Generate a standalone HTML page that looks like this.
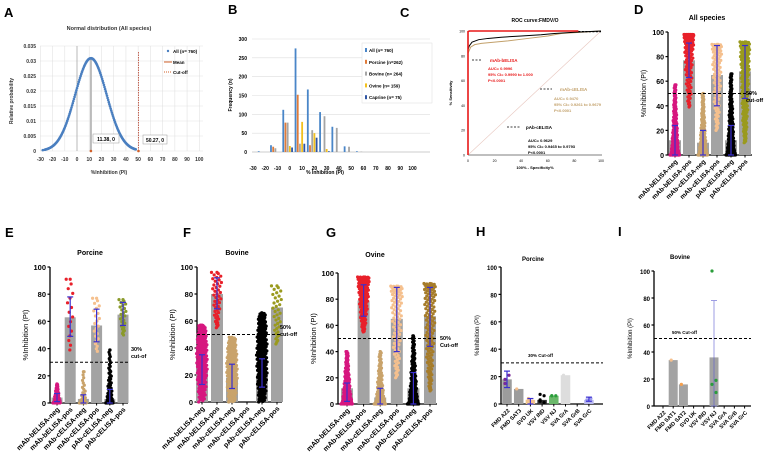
<!DOCTYPE html>
<html><head><meta charset="utf-8"><style>
body{margin:0;background:#fff}
svg{display:block;font-family:"Liberation Sans",sans-serif}
</style></head><body>
<svg id="fig" width="773" height="467" viewBox="0 0 773 467" xmlns="http://www.w3.org/2000/svg">
</svg>
<script>
// ---------- DATA ----------
const aMean = 11.38, aSd = 12.9, aCut = 50.27;
const aXTicks = [-30,-20,-10,0,10,20,30,40,50,60,70,80,90,100];
const aYTicks = [0,0.005,0.01,0.015,0.02,0.025,0.03,0.035];
const bBins = [-22,-12,-2,8,18,28,38,48,58];
const bAll = [2,18,112,275,166,106,67,15,2];
const bPorcine = [0,14,78,152,18,0,0,0,0];
const bBovine = [0,10,78,22,58,95,64,14,1];
const bOvine = [0,0,16,80,50,8,0,0,0];
const bCaprine = [0,0,12,22,38,2,0,0,0];
const bYTicks = [0,50,100,150,200,250,300];
const bXTicks = [-30,-20,-10,0,10,20,30,40,50,60,70,80,90,100];
const rocRedX = [0,0,1,83], rocRedY = [0,99.5,100,100];
const rocBlackX = [0,0,1,3,8,15,25,40,55,65,80,100], rocBlackY = [0,85,88,91,93,94,95,96,97,98,99,100];
const rocTanX = [0,0,2,5,10,20,30,45,60,70,85,100], rocTanY = [0,82,87,89,90,91,92,94,96,98,99,100];
const catsSix = ["mAb-bELISA-neg","mAb-bELISA-pos","mAb-cELISA-neg","mAb-cELISA-pos","pAb-cELISA-neg","pAb-cELISA-pos"];
const dBars = [12,77,10,65,12,68], dLo=[0,63,0,40,0,46], dHi=[24,91,20,89,24,89], dMin=[0,39,0,20,0,10], dMax=[57,98,50,90,66,92];
const eBars = [4,63,3,57,3,65], eLo=[1,49,0,45,0,57], eHi=[7,78,6,69,10,74], eMin=[0,39,0,38,0,50], eMax=[14,91,23,77,39,76];
const fBars = [25,80,18,0,20,70], fLo=[13,69,10,0,11,0], fHi=[35,92,28,0,32,0], fMin=[0,55,0,0,0,43], fMax=[57,96,48,0,66,86];
const gBars = [12,79,5,65,12,67], gLo=[2,67,0,40,0,44], gHi=[16,91,12,89,24,89], gMin=[0,55,0,20,0,10], gMax=[40,97,40,90,52,92];
const hCats = ["FMD A22","FMD SAT3","SVD UK","VSV IND","VSV NJ","SVA GrA","SVA GrB","SVA GrC"];
const hBars = [18,11,3,3,6,21,0,3], hLo=[12,0,0,0,0,0,0,2], hHi=[24,0,4,0,0,0,0,5];
const iCats = ["FMD A22","FMD SAT1","FMD SAT2","SVD UK","VSV IND","VSV NJ","SVA GrA","SVA GrB","SVA GrC"];
const iBars = [0,34,16,0,0,36,0,0,0], iLo=[0,0,0,0,0,0,0,0,0], iHi=[0,0,0,0,0,78,0,0,0];
const iDots = [[],[34],[16],[],[],[100,19,16,10],[],[],[]];
const yTicks100 = [0,20,40,60,80,100];

// ---------- HELPERS ----------
const svg = document.getElementById('fig');
const NS = "http://www.w3.org/2000/svg";
function el(tag, attrs, parent){const e=document.createElementNS(NS,tag);for(const k in attrs)e.setAttribute(k,attrs[k]);(parent||svg).appendChild(e);return e;}
function txt(x,y,s,attrs,parent){const t=el('text',Object.assign({x:x,y:y},attrs||{}),parent);t.textContent=s;return t;}
function grp(name){const g=el('g',{});return g;}
function label(x,y,s){const t=txt(x,y,s,{'font-size':13,'font-weight':'bold'});}

// ---------- PANEL A ----------
(function(){
 const g=grp('panel-a-normal-distribution');
 label(4,17,'A');
 const X=v=>77+(v)*(201-42)/130, Y=v=>151-v*(105/0.035);
 txt(109,30,'Normal distribution (All species)',{'font-size':5.5,'font-weight':'bold','text-anchor':'middle','fill':'#333'},g);
 aYTicks.forEach(t=>{el('line',{x1:40,x2:203,y1:Y(t),y2:Y(t),stroke:'#e2e2e2','stroke-width':0.6},g);txt(36,Y(t)+2,String(t),{'font-size':5,'font-weight':'bold','text-anchor':'end','fill':'#333'},g);});
 aXTicks.forEach(t=>{el('line',{x1:X(t),x2:X(t),y1:46,y2:151,stroke:'#e2e2e2','stroke-width':0.6},g);txt(X(t),161,String(t),{'font-size':5,'font-weight':'bold','text-anchor':'middle','fill':'#333'},g);});
 el('line',{x1:X(0),x2:X(0),y1:46,y2:151,stroke:'#aaa','stroke-width':0.8},g);
 txt(10,98,'Relative probability',{'font-size':5,'font-weight':'bold','fill':'#333','transform':'rotate(-90 13 98)','text-anchor':'middle'},g);
 txt(109,174,'%Inhibition (PI)',{'font-size':5,'font-weight':'bold','text-anchor':'middle','fill':'#333'},g);
 el('line',{x1:X(aMean),x2:X(aMean),y1:Y(0),y2:Y(0.031),stroke:'#bbb','stroke-width':2},g);
 for(let v=-28;v<=48;v+=0.5){const p=Math.exp(-0.5*((v-aMean)/aSd)**2)/(aSd*Math.sqrt(2*Math.PI));if(p<0.0004&&v>-28)continue;const c=el('circle',{cx:X(v),cy:Y(p),r:1.3,fill:'#4a7fc0'},g);}
 el('line',{x1:X(aCut),x2:X(aCut),y1:Y(0),y2:Y(0.033),stroke:'#b5402a','stroke-width':0.8,'stroke-dasharray':'1.5,1'},g);
 el('circle',{cx:X(aMean),cy:Y(0),r:1.3,fill:'#d0602a'},g);el('circle',{cx:X(aCut),cy:Y(0),r:1.3,fill:'#d0602a'},g);
 el('rect',{x:93,y:134,width:26,height:9,fill:'#fff',stroke:'#999','stroke-width':0.5},g);txt(106,141,'11.38, 0',{'font-size':5,'font-weight':'bold','text-anchor':'middle'},g);
 el('rect',{x:143,y:135,width:24,height:9,fill:'#fff',stroke:'#999','stroke-width':0.5},g);txt(155,142,'50.27, 0',{'font-size':5,'font-weight':'bold','text-anchor':'middle'},g);
 el('circle',{cx:168,cy:51,r:1.2,fill:'#4a7fc0'},g);txt(173,53,'All (n= 760)',{'font-size':4.5,'font-weight':'bold'},g);
 el('line',{x1:164,x2:172,y1:62,y2:62,stroke:'#d0602a'},g);txt(173,64,'Mean',{'font-size':4.5,'font-weight':'bold'},g);
 el('line',{x1:164,x2:172,y1:72,y2:72,stroke:'#d0602a','stroke-dasharray':'1,1'},g);txt(173,74,'Cut-off',{'font-size':4.5,'font-weight':'bold'},g);
})();

// ---------- PANEL B ----------
(function(){
 const g=grp('panel-b-frequency');
 label(228,14,'B');
 const X=v=>253+(v+30)*(135/110), Y=v=>152-v*(113/300);
 bYTicks.forEach(t=>{el('line',{x1:252,x2:430,y1:Y(t),y2:Y(t),stroke:'#ddd','stroke-width':0.6},g);txt(247,Y(t)+2,String(t),{'font-size':5,'font-weight':'bold','text-anchor':'end'},g);});
 bXTicks.forEach(t=>{txt(X(t),170,String(t),{'font-size':5,'font-weight':'bold','text-anchor':'middle'},g);});
 el('line',{x1:252,x2:430,y1:152,y2:152,stroke:'#aaa','stroke-width':0.6},g);
 txt(232,95,'Frequency (n)',{'font-size':5,'font-weight':'bold','transform':'rotate(-90 232 95)','text-anchor':'middle'},g);
 txt(325,174,'% Inhibition (PI)',{'font-size':5,'font-weight':'bold','text-anchor':'middle'},g);
 const series=[bAll,bPorcine,bBovine,bOvine,bCaprine], cols=['#4a86c8','#e07b39','#a5a5a5','#f2c01e','#2f55a4'], names=['All (n= 760)','Porcine (n=262)','Bovine (n= 264)','Ovine (n= 159)','Caprine (n= 75)'];
 series.forEach((s,si)=>s.forEach((v,i)=>{if(!v)return;const r=el('rect',{x:X(bBins[i])+si*2.2-5,y:Y(v),width:1.8,height:152-Y(v),fill:cols[si]},g);}));
 el('rect',{x:362,y:43,width:70,height:60,fill:'#fff',stroke:'#ddd','stroke-width':0.5},g);
 names.forEach((n,i)=>{el('rect',{x:365,y:48+i*11.8,width:2,height:4,fill:cols[i]},g);txt(369,52+i*11.8,n,{'font-size':4.5,'font-weight':'bold'},g);});
})();

// ---------- PANEL C ----------
(function(){
 const g=grp('panel-c-roc');
 label(400,17,'C');
 const X=v=>468+v*1.33, Y=v=>155-v*1.24;
 txt(535,22,'ROC curve:FMDV/O',{'font-size':5,'font-weight':'bold','text-anchor':'middle'},g);
 el('line',{x1:468,x2:468,y1:Y(100),y2:155,stroke:'#000','stroke-width':0.6},g);
 el('line',{x1:468,x2:602,y1:155,y2:155,stroke:'#000','stroke-width':0.6},g);
 [0,20,40,60,80,100].forEach(t=>{txt(465,Y(t)+1.5,String(t),{'font-size':3.5,'text-anchor':'end'},g);txt(X(t),162,String(t),{'font-size':3.5,'text-anchor':'middle'},g);});
 txt(452,93,'% Sensitivity',{'font-size':4,'font-weight':'bold','transform':'rotate(-90 452 93)','text-anchor':'middle'},g);
 txt(535,169,'100% - Specificity%',{'font-size':4,'font-weight':'bold','text-anchor':'middle'},g);
 el('line',{x1:X(0),y1:Y(0),x2:X(100),y2:Y(100),stroke:'#e8c8c0','stroke-width':0.6},g);
 const line=(xs,ys,c,w,name)=>{const p=el('polyline',{points:xs.map((x,i)=>X(x)+','+Y(ys[i])).join(' '),fill:'none',stroke:c,'stroke-width':w},g);};
 line(rocTanX,rocTanY,'#c2a06a',1,'roc-mab-celisa');
 line(rocBlackX,rocBlackY,'#000',1,'roc-pab-celisa');
 line(rocRedX,rocRedY,'#e81818',1.6,'roc-mab-belisa');
 el('line',{x1:X(83),x2:X(100),y1:Y(99.5),y2:Y(99.5),stroke:'#000','stroke-width':1.2,'stroke-dasharray':'2,1.5'},g);
 el('line',{x1:472,x2:482,y1:60,y2:60,stroke:'#000','stroke-width':0.8,'stroke-dasharray':'2,1.5'},g);
 txt(490,62,'mAb-bELISA',{'font-size':4.5,'font-weight':'bold',fill:'#e81818'},g);
 ['AUC= 0.9996','95% CI= 0.9990 to 1.000','P<0.0001'].forEach((s,i)=>txt(488,70+i*6,s,{'font-size':4,'font-weight':'bold',fill:'#e81818'},g));
 el('line',{x1:540,x2:552,y1:89,y2:89,stroke:'#000','stroke-width':0.8,'stroke-dasharray':'2,1.5'},g);
 txt(560,91,'mAb-cELISA',{'font-size':4.5,'font-weight':'bold',fill:'#c2a06a'},g);
 ['AUC= 0.9470','95% CI= 0.9261 to 0.9679','P<0.0001'].forEach((s,i)=>txt(554,100+i*6,s,{'font-size':4,'font-weight':'bold',fill:'#c2a06a'},g));
 el('line',{x1:507,x2:520,y1:127,y2:127,stroke:'#000','stroke-width':0.8,'stroke-dasharray':'2,1.5'},g);
 txt(526,129,'pAb-cELISA',{'font-size':4.5,'font-weight':'bold'},g);
 ['AUC= 0.9629','95% CI= 0.9465 to 0.9793','P<0.0001'].forEach((s,i)=>txt(528,142+i*6,s,{'font-size':4,'font-weight':'bold'},g));
})();

// ---------- DOT PLOT PANELS ----------
const dotCols = ['#d6177f','#e8202a','#c9a36b','#f5c08e','#000','#9a9a1e'];
function dotPanel(o){
 const g=grp(o.name);
 label(o.lx,o.ly,o.letter);
 const Y=v=>o.y0-v*(o.y0-o.y100)/100;
 const cx=i=>o.c0+i*o.step;
 txt(o.tx,o.ty,o.title,{'font-size':o.tfs||7,'font-weight':'bold','text-anchor':'middle'},g);
 yTicks100.forEach(t=>{el('line',{x1:o.ax-2.5,x2:o.ax,y1:Y(t),y2:Y(t),stroke:'#000','stroke-width':1.2},g);txt(o.ax-4,Y(t)+3,String(t),{'font-size':o.fs||7.5,'font-weight':'bold','text-anchor':'end'},g);});
 el('line',{x1:o.ax,x2:o.ax,y1:Y(100),y2:o.y0,stroke:'#000','stroke-width':1.3},g);
 el('line',{x1:o.ax,x2:o.xEnd,y1:o.y0,y2:o.y0,stroke:'#000','stroke-width':1.3},g);
 txt(o.ax-22,(o.y0+o.y100)/2,'%Inhibition (PI)',{'font-size':o.fs||7.5,'transform':'rotate(-90 '+(o.ax-22)+' '+((o.y0+o.y100)/2)+')','text-anchor':'middle'},g);
 o.cats.forEach((c,i)=>{
  el('line',{x1:cx(i),x2:cx(i),y1:o.y0,y2:o.y0+2.5,stroke:'#000','stroke-width':1},g);
  txt(cx(i)+3,o.y0+7,c,{'font-size':o.xfs||7,'font-weight':'bold','text-anchor':'end','transform':'rotate(-45 '+(cx(i)+3)+' '+(o.y0+7)+')'},g);
  const bw=o.bw;
  if(o.bars[i]>0){const r=el('rect',{x:cx(i)-bw/2,y:Y(o.bars[i]),width:bw,height:o.y0-Y(o.bars[i]),fill:o.barCols?o.barCols[i]:'#a3a3a3'},g);}
  if(o.min){ // swarm
   const lo=o.min[i],hi=o.max[i]; if(hi>0){
    const n=o.nArr?o.nArr[i]:(o.nDots||120), col=(o.cols||dotCols)[i];
    const sk=o.skew?o.skew[i]:1;
    for(let k=0;k<n;k++){const t=k/(n-1);let v,dens;
     if(sk<0){const tt=Math.pow(t,-sk);v=hi-(hi-lo)*tt;dens=Math.pow(1-tt,0.5);}
     else{v=lo+(hi-lo)*Math.pow(t,sk);dens=sk>1?Math.pow(1-t,0.6):(0.6+0.4*Math.sin(Math.PI*t));}
     const w=(o.spread||5)*Math.max(dens,0.2);const off=(((k*0.618)%1)-0.5)*2*w;
     el('circle',{cx:cx(i)+off,cy:Y(v),r:o.r||1.8,fill:col},g);}
    el('circle',{cx:cx(i),cy:Y(hi),r:o.r||1.8,fill:col},g);
   }
  }
  if(o.dots&&o.dots[i]) o.dots[i].forEach((v,k)=>{const d=el('circle',{cx:cx(i)+(k%2?2:-2),cy:Y(v),r:1.6,fill:o.dotCol?o.dotCol[i]:'#2a9d3a'},g);});
  if(o.hi[i]>0){const ec=o.ec||'#3a2fd0';el('line',{x1:cx(i),x2:cx(i),y1:Y(o.lo[i]),y2:Y(o.hi[i]),stroke:ec,'stroke-width':o.ew||1.2},g);
   [o.lo[i],o.hi[i]].forEach(v=>el('line',{x1:cx(i)-3,x2:cx(i)+3,y1:Y(v),y2:Y(v),stroke:ec,'stroke-width':o.ew||1.2},g));}
 });
 el('line',{x1:o.ax,x2:o.cutEnd||o.xEnd,y1:Y(o.cut),y2:Y(o.cut),stroke:'#000','stroke-width':1,'stroke-dasharray':'3,2'},g);
 o.cutText.forEach((s,k)=>txt(o.ctx,o.cty+k*7,s,{'font-size':o.cfs||5.5,'font-weight':'bold'},g));
}
dotPanel({name:'panel-d-all-species',letter:'D',lx:634,ly:14,title:'All species',tx:707,ty:20,ax:668,y0:155,y100:32,c0:675,step:14,bw:12,xEnd:752,cutEnd:752,cats:catsSix,bars:dBars,lo:dLo,hi:dHi,min:dMin,max:dMax,cut:50,cutText:['50%','cut-off'],ctx:746,cty:95,nArr:[200,120,180,90,200,150],spread:5,r:1.6,skew:[3,-2.5,3,-1.5,3,-1.3],fs:7,xfs:6.5});
dotPanel({name:'panel-e-porcine',letter:'E',lx:5,ly:237,title:'Porcine',tx:90,ty:255,ax:50,y0:403,y100:267,c0:57,step:13.2,bw:11,xEnd:128,cutEnd:128,cats:catsSix,bars:eBars,lo:eLo,hi:eHi,min:eMin,max:eMax,cut:30,cutText:['30%','cut-of'],ctx:131,cty:351,nArr:[60,16,30,22,70,25],spread:4,r:1.6,skew:[2,-1,3,-1,3,-1],cols:['#d6177f','#e8202a','#c9a36b','#f5c08e','#000','#8a9a2a']});
dotPanel({name:'panel-f-bovine',letter:'F',lx:183,ly:237,title:'Bovine',tx:237,ty:255,ax:197,y0:402,y100:267,c0:202,step:15,bw:12,xEnd:282,cutEnd:282,cats:catsSix,bars:fBars,lo:fLo,hi:fHi,min:fMin,max:fMax,cut:50,cutText:['50%','cut-off'],ctx:280,cty:329,nArr:[160,45,150,0,170,35],spread:5.5,r:1.6,skew:[0.8,-1,1,1,1,-1]});
dotPanel({name:'panel-g-ovine',letter:'G',lx:326,ly:237,title:'Ovine',tx:375,ty:257,ax:338,y0:404,y100:273,c0:347,step:16.6,bw:12,xEnd:437,cutEnd:437,cats:catsSix,bars:gBars,lo:gLo,hi:gHi,min:gMin,max:gMax,cut:50,cutText:['50%','Cut-off'],ctx:440,cty:340,nArr:[150,110,120,90,160,120],spread:6,r:1.6,skew:[2.5,-1.5,3,-1.5,3,-1.3],cols:['#d6177f','#e8202a','#c9a36b','#f5c08e','#000','#a67c2a']});
dotPanel({name:'panel-h-porcine-specificity',letter:'H',lx:476,ly:236,title:'Porcine',tx:533,ty:261,ax:501,y0:404,y100:267,c0:507,step:11.7,bw:9.5,xEnd:603,cats:hCats,bars:hBars,lo:hLo,hi:hHi,cut:30,cutText:['30% Cut-off'],ctx:528,cty:357,cfs:4.5,fs:6,xfs:5.5,tfs:6,barCols:['#9c9c9c','#9c9c9c','#f0c890','#333','#6ab86a','#ddd','#ccc','#b8b8ee'],
 dots:[[18,21,15],[11],[3,2,4,1],[3,6,2,1,7],[6,6,6],[21],[],[3,4]],dotCol:['#7a2a9a','#f5c08e','#f5c08e','#000','#2a9d3a','#ddd','#ccc','#9a9aee']});
dotPanel({name:'panel-i-bovine-specificity',letter:'I',lx:618,ly:236,title:'Bovine',tx:680,ty:259,ax:654,y0:406,y100:271,c0:663,step:10.2,bw:9,xEnd:751,cats:iCats,bars:iBars,lo:iLo,hi:iHi,cut:50,cutText:['50% Cut-off'],ctx:672,cty:334,cfs:4.5,fs:6,xfs:5.5,tfs:6,ec:'#5a5ad0',ew:0.6,
 dots:iDots,dotCol:['#2a9d3a','#f5c08e','#f5a04e','#2a9d3a','#2a9d3a','#2a9d3a','#2a9d3a','#2a9d3a','#2a9d3a']});
</script>
</body></html>
